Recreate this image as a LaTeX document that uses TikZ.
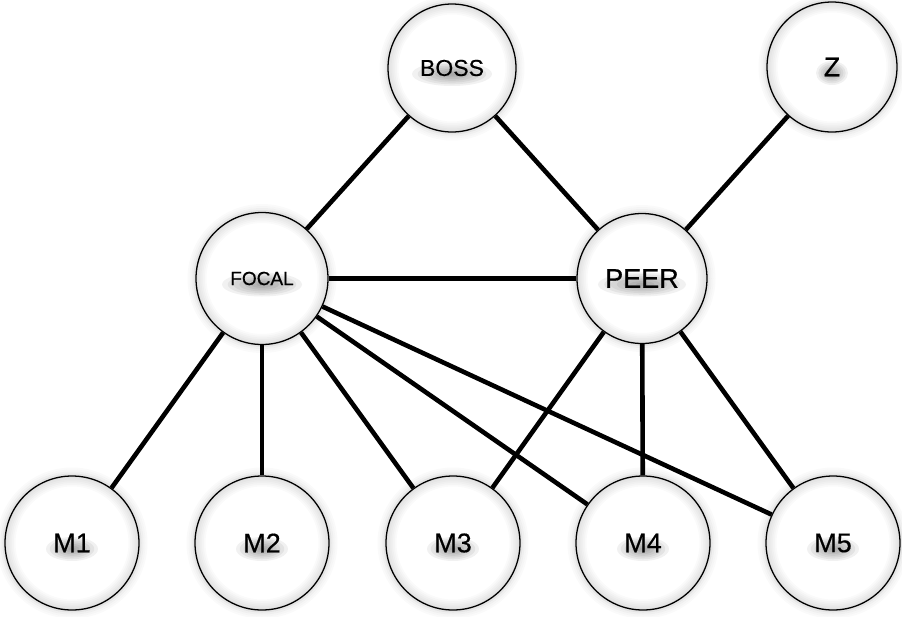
\documentclass[tikz,border=0pt]{standalone}
\usepackage{fontspec}
\setmainfont[FakeBold=0.5]{Liberation Sans}
\usetikzlibrary{backgrounds}

\tikzset{
  glow/.code={\def\gx{#1}},
  rad/.code={\def\rr{#1}},
  glow=30,
  % a person: white disc, faint grey rim inside, hazy shadow under the label
  actor/.style={circle, draw=black, line width=1.3pt, rad=#1, minimum size={2*#1},
    inner sep=0pt, fill=white, text=black,
    font=\fontsize{27}{27}\selectfont,
    path picture={
      \foreach \k in {1,...,6}{
        \draw[black, opacity=0.018, line width={\k*3.5pt}]
          (path picture bounding box.center) circle [radius=\rr];
      }
      \foreach \k in {1,...,7}{
        \fill[black, opacity=0.055]
          ([yshift=-6pt]path picture bounding box.center)
          ellipse [x radius={\gx*\k/7}, y radius={12*\k/7}];
      }
    }},
  tie/.style={line width=4.6pt, black},
  halo/.style={black, line width=2pt},
}

\begin{document}
\begin{tikzpicture}[x=1pt, y=-1pt]
  \useasboundingbox (0,0) rectangle (902,616);

  % people
  \node[actor=64, glow=40, font=\fontsize{23}{23}\selectfont] (boss) at (452,68) {BOSS};
  \node[actor=65, glow=16] (z) at (832,67) {Z};
  \node[actor=66, glow=40, font=\fontsize{19}{19}\selectfont] (focal) at (262,278.5) {FOCAL};
  \node[actor=65, glow=44] (peer) at (642,278.5) {PEER};
  \node[actor=67, glow=26] (m1) at (72,543) {M1};
  \node[actor=67, glow=26] (m2) at (262,543) {M2};
  \node[actor=67, glow=26] (m3) at (453,543) {M3};
  \node[actor=67, glow=26] (m4) at (643,543) {M4};
  \node[actor=67, glow=26] (m5) at (833,543) {M5};

  \begin{scope}[on background layer]
    % faint outer shadow round every circle
    \foreach \n/\r in {boss/64, z/65, focal/66, peer/65, m1/67, m2/67, m3/67, m4/67, m5/67}{
      \foreach \d/\o in {1.5/0.10, 3.5/0.06, 5.5/0.035, 7.5/0.018}{
        \draw[halo, opacity=\o] (\n.center) circle [radius=\r+\d];
      }
    }
    % ties
    \draw[tie] (boss) -- (focal);
    \draw[tie] (boss) -- (peer);
    \draw[tie] (z) -- (peer);
    \draw[tie] (focal) -- (peer);
    \draw[tie] (focal) -- (m1);
    \draw[tie] (focal) -- (m2);
    \draw[tie] (focal) -- (m3);
    \draw[tie] (focal) -- (m4);
    \draw[tie] (focal) -- (m5);
    \draw[tie] (peer) -- (m3);
    \draw[tie] (peer) -- (m4);
    \draw[tie] (peer) -- (m5);
  \end{scope}
\end{tikzpicture}
\end{document}
